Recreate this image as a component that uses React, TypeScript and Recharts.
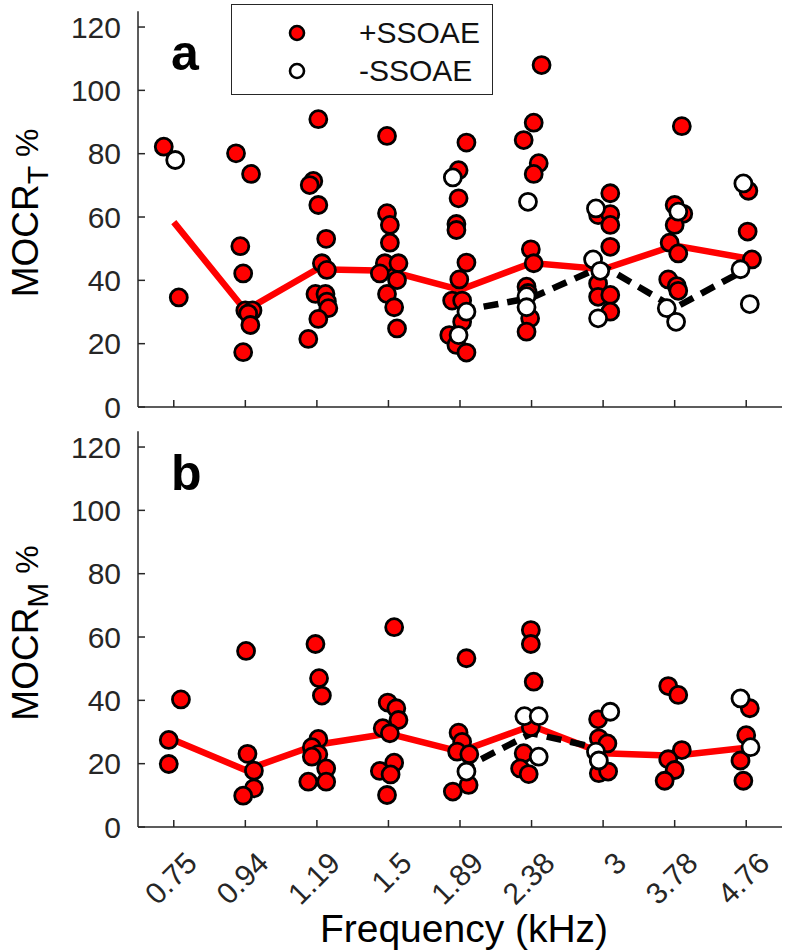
import React from "react";
import {
  ComposedChart,
  Scatter,
  Line,
  XAxis,
  YAxis,
  Legend,
  Customized,
} from "recharts";

type Pt = [number, number];

const categories = ["0.75", "0.94", "1.19", "1.5", "1.89", "2.38", "3", "3.78", "4.76"];
const yTicks = [0, 20, 40, 60, 80, 100, 120];
const seriesNames = ["+SSOAE", "-SSOAE"];

// panel a: MOCR_T, x = category index + jitter
const mocrTPos: Pt[] = [
  [0.86, 82.2], [1.07, 34.6],
  [1.87, 80.1], [2.08, 73.6], [1.93, 50.8], [1.97, 42.2], [2.0, 30.5], [2.1, 30.5], [2.04, 29.5], [2.07, 25.9], [1.97, 17.3],
  [3.02, 90.9], [2.95, 71.4], [2.9, 70.1], [3.02, 63.8], [3.13, 53.1], [3.07, 45.4], [3.14, 43.3], [2.98, 35.7], [3.12, 35.7], [3.14, 33.3], [3.16, 31.2], [3.02, 27.8], [2.88, 21.5],
  [3.98, 85.6], [3.98, 61.2], [4.02, 57.5], [4.02, 51.9], [3.95, 45.4], [3.88, 42.2], [4.14, 45.4], [4.12, 40.1], [3.98, 35.7], [4.08, 31.5], [4.12, 24.8],
  [5.09, 83.5], [4.98, 74.8], [4.98, 65.9], [4.95, 57.8], [4.95, 55.9], [5.09, 45.6], [4.99, 40.3], [4.89, 33.6], [5.03, 33.6], [5.03, 26.9], [4.85, 22.7], [4.95, 19.6], [5.09, 17.2],
  [6.14, 108], [6.03, 89.8], [5.89, 84.3], [6.1, 77], [6.03, 73.6], [5.99, 49.8], [6.03, 45.4], [5.93, 38], [5.95, 36], [5.98, 28], [5.93, 23.8],
  [7.1, 67.5], [6.93, 60.6], [7.1, 60.9], [7.1, 57.5], [7.1, 50.6], [6.93, 39], [6.93, 34.8], [7.1, 35.4], [7.1, 30.1],
  [8.1, 88.7], [8.0, 63.8], [8.12, 61], [8.0, 57.5], [7.93, 51.9], [8.05, 48.5], [7.91, 40.3], [8.03, 38.2], [8.05, 36.7],
  [9.03, 68.3], [9.02, 55.4], [9.08, 46.6],
];
const mocrTNeg: Pt[] = [
  [1.02, 78],
  [4.9, 72.5], [5.09, 30.1], [4.98, 22.7],
  [5.95, 64.8], [5.93, 35], [5.93, 31.5],
  [6.9, 62.7], [6.86, 46.6], [6.96, 43], [6.93, 28],
  [8.05, 61.7], [7.89, 31.2], [8.02, 26.9],
  [8.96, 70.6], [8.92, 43.5], [9.05, 32.5],
];
const mocrTPosMedian = [58.4, 30.5, 43.5, 43, 37, 45.5, 43.5, 51, 47];
const mocrTNegMedian: (number | null)[] = [null, null, null, null, 30.3, 34.5, 44.5, 31.3, 43.5];

// panel b: MOCR_M
const mocrMPos: Pt[] = [
  [1.1, 40.3], [0.93, 27.5], [0.93, 19.9],
  [2.01, 55.6], [2.03, 23.1], [2.12, 17.8], [2.12, 12.2], [1.97, 9.9],
  [2.98, 57.8], [3.03, 47], [3.07, 41.5], [3.02, 27.8], [2.93, 25.2], [3.02, 23], [2.93, 22.2], [3.13, 18.5], [2.88, 14.3], [3.13, 14.3],
  [4.08, 63.1], [3.99, 39.3], [4.11, 37.5], [4.14, 33.8], [3.92, 31.2], [4.02, 29.6], [4.08, 20.3], [3.88, 17.7], [4.03, 16.6], [3.98, 10.1],
  [5.09, 53.3], [4.98, 29.8], [5.03, 26.9], [4.96, 23.8], [5.13, 23], [5.12, 13.3], [4.9, 11.2],
  [5.99, 62.2], [5.99, 57.8], [6.03, 45.9], [5.99, 31.5], [5.89, 23.3], [5.84, 18.5], [5.96, 16.7],
  [6.93, 34], [6.94, 28], [7.06, 26.4], [6.94, 17], [7.07, 17.5],
  [7.91, 44.5], [8.05, 41.7], [8.1, 24.3], [7.91, 21.4], [8.0, 18], [7.86, 14.6],
  [9.05, 37.5], [9.0, 29], [8.92, 21], [8.96, 14.6],
];
const mocrMNeg: Pt[] = [
  [5.09, 17.5],
  [5.9, 35], [6.1, 35], [6.1, 22.2],
  [7.1, 36.4], [6.9, 23.8], [6.94, 21],
  [8.92, 40.6], [9.06, 25.2],
];
const mocrMPosMedian = [27.5, 18, 26, 29.5, 23.8, 32, 23.3, 22.5, 25];
const mocrMNegMedian: (number | null)[] = [null, null, null, null, 18, 29.6, 24.6, null, null];

const FONT = "'Liberation Sans', Arial, Helvetica, sans-serif";
const AXIS = "#262626";
const RED = "#ff0000";

const toPoints = (pairs: Pt[]) => pairs.map(([x, y]) => ({ x, y }));
const toLine = (vals: (number | null)[]) =>
  vals.map((v, i) => ({ x: i + 1, y: v })).filter((d) => d.y !== null);

const marker = (fill: string, r = 8.5) => (p: any) =>
  <circle cx={p.cx} cy={p.cy} r={r} fill={fill} stroke="#000" strokeWidth={2.8} />;

const YTick = (props: any) => {
  const { x, y, payload } = props;
  return (
    <g>
      <line x1={x} x2={x + 7} y1={y} y2={y} stroke={AXIS} strokeWidth={1.5} />
      <text x={x - 17} y={y} textAnchor="end" dominantBaseline="central" fontSize={30} fill={AXIS} fontFamily={FONT}>
        {payload.value}
      </text>
    </g>
  );
};

const makeXTick = (showLabel: boolean) => (props: any) => {
  const { x, y, payload } = props;
  const label = categories[payload.value - 1];
  return (
    <g>
      <line x1={x} x2={x} y1={y} y2={y - 7} stroke={AXIS} strokeWidth={1.5} />
      {showLabel && (
        <text
          x={x + 25}
          y={y + 38}
          textAnchor="end"
          transform={`rotate(-45 ${x + 25} ${y + 38})`}
          fontSize={30}
          fill={AXIS}
          fontFamily={FONT}
        >
          {label}
        </text>
      )}
    </g>
  );
};

const LegendBox = () => (
  <div
    style={{
      position: "relative",
      width: 262,
      height: 91,
      border: `1.5px solid ${AXIS}`,
      boxSizing: "border-box",
      background: "#fff",
      fontFamily: FONT,
    }}
  >
    {seriesNames.map((name, i) => (
      <div key={name} style={{ position: "absolute", left: 0, top: 10 + i * 38, height: 36, display: "flex", alignItems: "center" }}>
        <svg width={20} height={20} style={{ position: "absolute", left: 55 }}>
          <circle cx={10} cy={10} r={7} fill={i === 0 ? RED : "#fff"} stroke="#000" strokeWidth={2.6} />
        </svg>
        <span style={{ position: "absolute", left: 127, fontSize: 30, color: "#111", whiteSpace: "nowrap" }}>{name}</span>
      </div>
    ))}
  </div>
);

interface PanelProps {
  letter: string;
  sub: string;
  pos: Pt[];
  neg: Pt[];
  posMedian: (number | null)[];
  negMedian: (number | null)[];
  bottomPanel?: boolean;
}

const Panel = ({ letter, sub, pos, neg, posMedian, negMedian, bottomPanel }: PanelProps) => {
  const height = bottomPanel ? 532 : 440;
  return (
    <ComposedChart width={786} height={height} margin={{ top: 11.2, right: 4, left: 0, bottom: 0 }}>
      <XAxis
        type="number"
        dataKey="x"
        domain={[0.5, 9.5]}
        ticks={categories.map((_, i) => i + 1)}
        interval={0}
        height={height - 407}
        tickSize={0}
        tickMargin={0}
        tickLine={false}
        tick={makeXTick(!!bottomPanel)}
        axisLine={{ stroke: AXIS, strokeWidth: 1.5 }}
        allowDataOverflow
      />
      <YAxis
        type="number"
        dataKey="y"
        domain={[0, 125]}
        ticks={yTicks}
        interval={0}
        width={138}
        tickSize={0}
        tickMargin={0}
        tickLine={false}
        tick={<YTick />}
        axisLine={{ stroke: AXIS, strokeWidth: 1.5 }}
        allowDataOverflow
      />
      {!bottomPanel && (
        <Legend
          layout="horizontal"
          verticalAlign="middle"
          align="center"
          content={() => <LegendBox />}
          wrapperStyle={{ top: 4, left: 231, width: 262, height: 91 }}
        />
      )}
      <Line
        data={toLine(posMedian)}
        dataKey="y"
        type="linear"
        stroke={RED}
        strokeWidth={6.5}
        dot={false}
        activeDot={false}
        isAnimationActive={false}
      />
      <Line
        data={toLine(negMedian)}
        dataKey="y"
        type="linear"
        stroke="#000"
        strokeWidth={6.5}
        strokeDasharray="15 9"
        dot={false}
        activeDot={false}
        isAnimationActive={false}
      />
      <Scatter data={toPoints(pos)} dataKey="y" shape={marker(RED)} isAnimationActive={false} />
      <Scatter data={toPoints(neg)} dataKey="y" shape={marker("#fff")} isAnimationActive={false} />
      <Customized
        component={() => (
          <g fontFamily={FONT}>
            <text x={171} y={70} fontSize={50} fontWeight="bold" fill="#000">
              {letter}
            </text>
            <text transform="translate(38 213) rotate(-90)" textAnchor="middle" fill="#000">
              <tspan fontSize={37}>MOCR</tspan>
              <tspan fontSize={30} dy={10}>{sub}</tspan>
              <tspan fontSize={32} dy={-10}> %</tspan>
            </text>
            {bottomPanel && (
              <text x={464} y={522} textAnchor="middle" fontSize={39} fill="#000">
                Frequency (kHz)
              </text>
            )}
          </g>
        )}
      />
    </ComposedChart>
  );
};

export default function App() {
  return (
    <div style={{ position: "absolute", top: 0, left: 0, width: 786, height: 952, background: "#fff" }}>
      <div style={{ position: "absolute", top: 0, left: 0 }}>
        <Panel letter="a" sub="T" pos={mocrTPos} neg={mocrTNeg} posMedian={mocrTPosMedian} negMedian={mocrTNegMedian} />
      </div>
      <div style={{ position: "absolute", top: 420, left: 0 }}>
        <Panel letter="b" sub="M" pos={mocrMPos} neg={mocrMNeg} posMedian={mocrMPosMedian} negMedian={mocrMNegMedian} bottomPanel />
      </div>
    </div>
  );
}
